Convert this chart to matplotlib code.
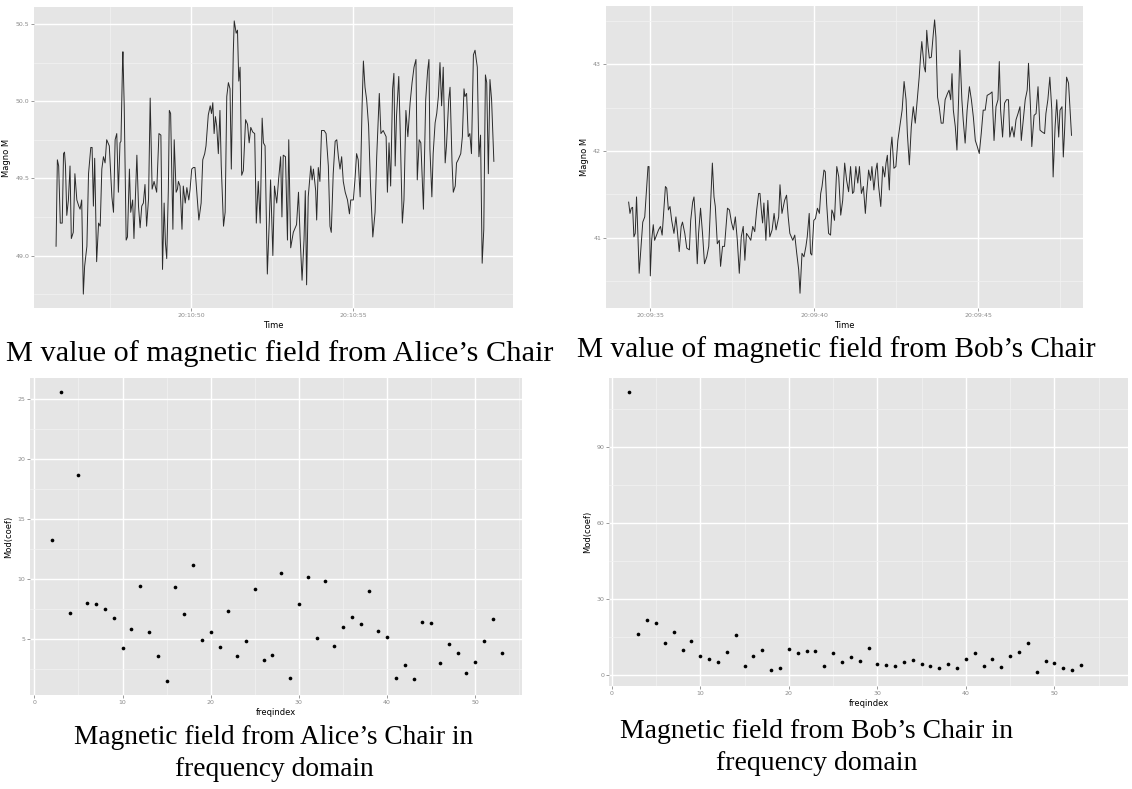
import numpy as np
import matplotlib
matplotlib.use("Agg")
import matplotlib.pyplot as plt
from matplotlib.ticker import FixedLocator, FuncFormatter

W, H = 1132, 789

# ---- Alice's chair, magnitude over time (seconds after 20:10:00) ----
alice_t = [45.84, 45.88, 45.92, 45.97, 46.03, 46.07, 46.10, 46.13, 46.17, 46.22,
           46.27, 46.31, 46.37, 46.42, 46.48, 46.54, 46.58, 46.63, 46.68, 46.72,
           46.79, 46.84, 46.91, 46.95, 46.99, 47.03, 47.09, 47.15, 47.20, 47.25,
           47.30, 47.35, 47.40, 47.48, 47.56, 47.61, 47.66, 47.71, 47.76, 47.81,
           47.84, 47.89, 47.90, 47.94, 48.00, 48.04, 48.10, 48.14, 48.20, 48.24,
           48.33, 48.38, 48.43, 48.48, 48.53, 48.58, 48.63, 48.69, 48.74, 48.80,
           48.86, 48.94, 49.01, 49.07, 49.12, 49.17, 49.21, 49.25, 49.30, 49.33,
           49.37, 49.44, 49.48, 49.54, 49.58, 49.61, 49.66, 49.72, 49.76, 49.82,
           49.87, 49.93, 49.97, 50.02, 50.07, 50.12, 50.17, 50.24, 50.31, 50.36,
           50.42, 50.46, 50.53, 50.59, 50.63, 50.67, 50.71, 50.75, 50.79, 50.84,
           50.89, 50.93, 51.00, 51.05, 51.10, 51.15, 51.20, 51.24, 51.30, 51.33,
           51.39, 51.43, 51.47, 51.51, 51.56, 51.61, 51.68, 51.74, 51.79, 51.84,
           51.90, 51.96, 52.01, 52.07, 52.13, 52.19, 52.23, 52.28, 52.35, 52.41,
           52.45, 52.52, 52.57, 52.64, 52.70, 52.76, 52.80, 52.84, 52.91, 52.97,
           53.01, 53.07, 53.15, 53.25, 53.31, 53.36, 53.42, 53.48, 53.52, 53.56,
           53.61, 53.69, 53.73, 53.77, 53.84, 53.87, 53.92, 53.97, 54.02, 54.10,
           54.16, 54.23, 54.28, 54.32, 54.38, 54.44, 54.49, 54.54, 54.59, 54.64,
           54.69, 54.75, 54.82, 54.88, 54.92, 55.00, 55.05, 55.10, 55.15, 55.21,
           55.27, 55.31, 55.36, 55.41, 55.47, 55.53, 55.60, 55.67, 55.72, 55.80,
           55.85, 55.92, 56.01, 56.05, 56.10, 56.15, 56.21, 56.25, 56.29, 56.33,
           56.40, 56.44, 56.51, 56.56, 56.62, 56.68, 56.75, 56.81, 56.87, 56.93,
           56.97, 57.03, 57.08, 57.16, 57.23, 57.29, 57.33, 57.36, 57.42, 57.46,
           57.52, 57.57, 57.62, 57.67, 57.72, 57.77, 57.83, 57.87, 57.94, 57.98,
           58.04, 58.08, 58.14, 58.18, 58.23, 58.31, 58.36, 58.41, 58.44, 58.49,
           58.54, 58.59, 58.64, 58.70, 58.75, 58.82, 58.87, 58.92, 58.97, 59.02,
           59.07, 59.11, 59.16, 59.21, 59.26, 59.33]
alice_m = [49.06, 49.62, 49.58, 49.21, 49.21, 49.66, 49.67, 49.58, 49.26, 49.36,
           49.58, 49.11, 49.15, 49.53, 49.36, 49.32, 49.30, 49.36, 48.75, 48.93,
           49.06, 49.53, 49.70, 49.70, 49.32, 49.63, 48.96, 49.21, 49.19, 49.56,
           49.64, 49.60, 49.75, 49.71, 49.38, 49.28, 49.75, 49.79, 49.41, 49.73,
           49.74, 50.27, 50.32, 49.97, 49.10, 49.12, 49.56, 49.28, 49.36, 49.11,
           49.65, 49.32, 49.18, 49.32, 49.34, 49.46, 49.19, 49.37, 50.02, 49.43,
           49.48, 49.41, 49.79, 49.78, 48.91, 49.34, 49.08, 48.98, 49.43, 49.94,
           49.92, 49.17, 49.75, 49.41, 49.43, 49.48, 49.45, 49.17, 49.45, 49.34,
           49.44, 49.36, 49.43, 49.56, 49.57, 49.57, 49.43, 49.23, 49.34, 49.62,
           49.66, 49.71, 49.91, 49.97, 49.92, 49.99, 49.79, 49.90, 49.84, 49.66,
           49.94, 49.58, 49.19, 49.28, 50.03, 50.12, 50.08, 49.56, 50.31, 50.52,
           50.44, 50.46, 50.13, 50.22, 49.52, 49.55, 49.88, 49.85, 49.73, 49.83,
           49.80, 49.79, 49.21, 49.48, 49.21, 49.89, 49.73, 49.71, 48.88, 49.22,
           49.49, 49.00, 49.45, 49.34, 49.50, 49.64, 49.25, 49.65, 49.64, 49.10,
           49.75, 49.05, 49.15, 49.20, 49.41, 49.12, 48.84, 49.10, 49.42, 48.81,
           49.38, 49.58, 49.49, 49.56, 49.42, 49.23, 49.57, 49.48, 49.81, 49.81,
           49.79, 49.58, 49.19, 49.15, 49.53, 49.74, 49.75, 49.64, 49.56, 49.64,
           49.48, 49.41, 49.36, 49.27, 49.36, 49.36, 49.49, 49.66, 49.62, 49.38,
           49.97, 50.26, 50.09, 50.01, 49.84, 49.45, 49.12, 49.28, 49.64, 50.05,
           49.79, 49.81, 49.77, 49.41, 49.73, 49.45, 50.08, 50.18, 49.58, 49.90,
           50.16, 49.84, 49.21, 49.36, 49.94, 49.77, 49.99, 50.12, 50.22, 50.27,
           49.49, 49.75, 49.73, 49.30, 50.01, 50.20, 50.27, 49.69, 49.38, 49.66,
           49.86, 49.92, 50.03, 50.25, 49.97, 50.22, 49.60, 49.71, 50.01, 50.09,
           49.61, 49.41, 49.45, 49.60, 49.62, 49.66, 49.77, 50.08, 50.03, 50.05,
           49.77, 49.79, 49.66, 50.30, 50.33, 50.22, 49.64, 49.78, 48.95, 49.17,
           50.17, 50.12, 49.53, 50.14, 50.01, 49.61]

# ---- Bob's chair, magnitude over time (seconds after 20:09:00) ----
bob_t = [34.35, 34.39, 34.43, 34.47, 34.51, 34.55, 34.59, 34.63, 34.67, 34.74,
         34.78, 34.84, 34.90, 34.94, 34.97, 35.01, 35.05, 35.10, 35.14, 35.20,
         35.26, 35.32, 35.37, 35.43, 35.47, 35.51, 35.56, 35.61, 35.66, 35.73,
         35.79, 35.83, 35.89, 35.95, 35.99, 36.06, 36.12, 36.20, 36.24, 36.30,
         36.34, 36.38, 36.44, 36.48, 36.54, 36.60, 36.66, 36.73, 36.79, 36.85,
         36.90, 36.95, 36.99, 37.05, 37.11, 37.15, 37.21, 37.27, 37.36, 37.42,
         37.48, 37.54, 37.60, 37.66, 37.72, 37.78, 37.84, 37.89, 37.94, 38.01,
         38.07, 38.13, 38.19, 38.25, 38.31, 38.35, 38.40, 38.43, 38.47, 38.53,
         38.59, 38.65, 38.72, 38.78, 38.84, 38.92, 38.96, 39.02, 39.10, 39.16,
         39.21, 39.26, 39.35, 39.41, 39.47, 39.53, 39.57, 39.63, 39.69, 39.75,
         39.79, 39.85, 39.89, 39.93, 39.99, 40.04, 40.10, 40.16, 40.20, 40.24,
         40.30, 40.34, 40.38, 40.44, 40.50, 40.54, 40.58, 40.62, 40.69, 40.75,
         40.81, 40.87, 40.93, 40.99, 41.05, 41.11, 41.17, 41.21, 41.27, 41.33,
         41.38, 41.44, 41.50, 41.56, 41.60, 41.66, 41.72, 41.76, 41.82, 41.88,
         41.92, 41.96, 42.03, 42.09, 42.15, 42.19, 42.23, 42.29, 42.33, 42.37,
         42.43, 42.49, 42.55, 42.61, 42.68, 42.74, 42.80, 42.84, 42.90, 42.96,
         43.02, 43.08, 43.14, 43.20, 43.24, 43.28, 43.35, 43.39, 43.43, 43.47,
         43.51, 43.57, 43.63, 43.67, 43.71, 43.76, 43.81, 43.87, 43.93, 43.99,
         44.06, 44.11, 44.16, 44.20, 44.24, 44.30, 44.35, 44.40, 44.44, 44.50,
         44.54, 44.60, 44.66, 44.73, 44.79, 44.85, 44.91, 44.97, 45.03, 45.09,
         45.15, 45.21, 45.27, 45.36, 45.42, 45.48, 45.54, 45.60, 45.64, 45.68,
         45.74, 45.80, 45.86, 45.92, 45.96, 46.03, 46.09, 46.15, 46.21, 46.27,
         46.31, 46.37, 46.43, 46.49, 46.53, 46.59, 46.63, 46.70, 46.76, 46.82,
         46.88, 46.94, 47.02, 47.06, 47.12, 47.18, 47.24, 47.28, 47.34, 47.39,
         47.45, 47.49, 47.55, 47.59, 47.63, 47.69, 47.75, 47.79, 47.84]
bob_m = [41.41, 41.28, 41.34, 41.35, 41.01, 41.05, 41.47, 41.05, 40.59, 40.97,
         41.18, 41.24, 41.59, 41.82, 41.82, 40.56, 40.97, 41.15, 40.97, 41.03,
         41.09, 41.13, 41.03, 41.36, 41.59, 41.57, 41.32, 41.36, 41.20, 41.05,
         41.24, 41.09, 40.84, 41.13, 41.18, 41.05, 40.88, 40.86, 41.20, 41.41,
         41.47, 41.24, 40.70, 41.05, 41.34, 41.05, 40.70, 40.78, 40.90, 41.43,
         41.86, 41.47, 41.36, 40.93, 40.97, 40.67, 40.90, 40.90, 41.34, 41.32,
         41.18, 41.09, 41.24, 40.97, 40.59, 41.01, 41.13, 40.74, 41.05, 41.01,
         40.97, 41.13, 41.07, 41.32, 41.51, 41.51, 41.28, 41.17, 41.40, 40.97,
         41.43, 41.01, 41.09, 41.28, 41.09, 41.24, 41.61, 41.28, 41.43, 41.49,
         41.24, 41.05, 40.97, 41.03, 40.82, 40.63, 40.36, 40.82, 40.78, 40.90,
         41.01, 41.28, 40.82, 40.80, 41.20, 41.22, 41.34, 41.28, 41.51, 41.59,
         41.78, 41.76, 41.40, 41.05, 41.03, 41.32, 41.28, 41.20, 41.82, 41.70,
         41.26, 41.43, 41.86, 41.66, 41.53, 41.82, 41.51, 41.53, 41.82, 41.63,
         41.82, 41.51, 41.59, 41.28, 41.51, 41.78, 41.66, 41.82, 41.55, 41.78,
         41.86, 41.61, 41.36, 41.82, 41.70, 41.86, 41.95, 41.55, 42.01, 42.16,
         41.80, 41.82, 42.12, 42.28, 42.47, 42.80, 42.59, 42.20, 41.84, 42.28,
         42.51, 42.32, 42.59, 42.85, 43.08, 43.26, 42.97, 42.91, 43.39, 43.20,
         43.07, 43.08, 43.35, 43.51, 43.31, 42.62, 42.51, 42.32, 42.32, 42.59,
         42.66, 42.70, 42.59, 42.89, 42.47, 42.28, 42.01, 42.59, 43.16, 42.59,
         42.36, 42.09, 42.47, 42.74, 42.59, 42.39, 42.12, 42.05, 41.97, 42.20,
         42.47, 42.47, 42.64, 42.66, 42.68, 42.12, 42.51, 42.59, 43.03, 42.47,
         42.16, 42.55, 42.59, 42.59, 42.16, 42.28, 42.16, 42.36, 42.43, 42.51,
         42.12, 42.36, 42.59, 42.70, 43.01, 42.51, 42.05, 42.41, 42.43, 42.74,
         42.24, 42.22, 42.20, 42.43, 42.59, 42.85, 42.47, 41.70, 42.28, 42.59,
         42.16, 42.47, 42.51, 41.93, 42.24, 42.85, 42.78, 42.51, 42.18]

# ---- frequency domain, Mod(coef) per freqindex ----
freqindex = list(range(2, 54))
alice_coef = [13.25, 25.58, 7.17, 18.72, 8.00, 7.92, 7.56, 6.81, 4.25, 5.89,
              9.47, 5.64, 3.61, 1.53, 9.39, 7.11, 11.22, 4.92, 5.58, 4.39,
              7.36, 3.61, 4.86, 9.19, 3.31, 3.69, 10.50, 1.75, 7.94, 10.17,
              5.11, 9.83, 4.42, 6.06, 6.89, 6.25, 9.00, 5.67, 5.22, 1.75,
              2.86, 1.69, 6.44, 6.39, 3.06, 4.61, 3.89, 2.17, 3.11, 4.89,
              6.72, 3.89]
bob_coef = [111.7, 16.2, 21.9, 20.6, 12.5, 17.1, 9.7, 13.3, 7.5, 6.2,
            5.3, 9.1, 15.8, 3.7, 7.5, 10.0, 2.1, 2.9, 10.4, 8.8,
            9.3, 9.3, 3.4, 8.7, 5.3, 7.1, 5.7, 10.6, 4.3, 3.8,
            3.4, 5.3, 5.9, 4.3, 3.5, 2.9, 4.3, 2.9, 6.3, 8.8,
            3.7, 6.3, 3.3, 7.5, 9.2, 12.7, 1.1, 5.5, 4.6, 2.9,
            2.1, 3.9]

cap_alice_time = "M value of magnetic field from Alice\u2019s Chair"
cap_bob_time = "M value of magnetic field from Bob\u2019s Chair"
cap_alice_freq = ["Magnetic field from Alice\u2019s Chair in", "frequency domain"]
cap_bob_freq = ["Magnetic field from Bob\u2019s Chair in", "frequency domain"]

GREY_BG = "#E5E5E5"
TICK_GREY = "#8A8A8A"


def px_axes(fig, left, top, right, bottom):
    return fig.add_axes([left / W, 1 - bottom / H, (right - left) / W, (bottom - top) / H])


def gg_style(ax, xmajor, xminor, ymajor, yminor):
    ax.set_facecolor(GREY_BG)
    for s in ax.spines.values():
        s.set_visible(False)
    ax.xaxis.set_major_locator(FixedLocator(xmajor))
    ax.xaxis.set_minor_locator(FixedLocator(xminor))
    ax.yaxis.set_major_locator(FixedLocator(ymajor))
    ax.yaxis.set_minor_locator(FixedLocator(yminor))
    ax.grid(which="major", color="white", lw=1.0)
    ax.grid(which="minor", color="#F2F2F2", lw=0.5)
    ax.set_axisbelow(True)
    ax.tick_params(which="major", length=2, width=0.6, color=TICK_GREY,
                   labelsize=4.5, labelcolor=TICK_GREY, pad=1.5)
    ax.tick_params(which="minor", length=0)


def clock(prefix):
    return FuncFormatter(lambda v, p: "%s:%02d" % (prefix, round(v)))


def caption(fig, x, y, s, size):
    fig.text(x / W, 1 - y / H, s, fontsize=size, family="Liberation Serif",
             ha="center", va="center")


fig = plt.figure(figsize=(W / 100, H / 100), dpi=100)

# top left: Alice, time domain
ax = px_axes(fig, 34, 7, 513, 308)
ax.plot(alice_t, alice_m, color="#2a2a2a", lw=0.7)
ax.set_xlim(45.16, 59.92)
ax.set_ylim(48.66, 50.61)
gg_style(ax, [50, 55], [47.5, 52.5, 57.5], [49.0, 49.5, 50.0, 50.5], [48.75, 49.25, 49.75, 50.25])
ax.xaxis.set_major_formatter(clock("20:10"))
ax.yaxis.set_major_formatter(FuncFormatter(lambda v, p: "%.1f" % v))
ax.set_xlabel("Time", fontsize=6, labelpad=2)
ax.set_ylabel("Magno M", fontsize=6, labelpad=3)

# top right: Bob, time domain
ax = px_axes(fig, 606, 6, 1083, 308)
ax.plot(bob_t, bob_m, color="#2a2a2a", lw=0.7)
ax.set_xlim(33.66, 48.19)
ax.set_ylim(40.19, 43.67)
gg_style(ax, [35, 40, 45], [37.5, 42.5, 47.5], [41, 42, 43], [40.5, 41.5, 42.5, 43.5])
ax.xaxis.set_major_formatter(clock("20:09"))
ax.set_xlabel("Time", fontsize=6, labelpad=2)
ax.set_ylabel("Magno M", fontsize=6, labelpad=3)

# bottom left: Alice, frequency domain
ax = px_axes(fig, 30, 378, 522, 695)
ax.scatter(freqindex, alice_coef, s=7, color="black", lw=0)
ax.set_xlim(-0.49, 55.3)
ax.set_ylim(0.36, 26.78)
gg_style(ax, [0, 10, 20, 30, 40, 50], [5, 15, 25, 35, 45, 55], [5, 10, 15, 20, 25], [2.5, 7.5, 12.5, 17.5, 22.5])
ax.set_xlabel("freqindex", fontsize=6, labelpad=2)
ax.set_ylabel("Mod(coef)", fontsize=6, labelpad=3)

# bottom right: Bob, frequency domain
ax = px_axes(fig, 609, 378, 1128, 686)
ax.scatter(freqindex, bob_coef, s=7, color="black", lw=0)
ax.set_xlim(-0.3, 58.3)
ax.set_ylim(-4.3, 117.1)
gg_style(ax, [0, 10, 20, 30, 40, 50], [5, 15, 25, 35, 45, 55], [0, 30, 60, 90], [15, 45, 75, 105])
ax.set_xlabel("freqindex", fontsize=6, labelpad=2)
ax.set_ylabel("Mod(coef)", fontsize=6, labelpad=3)

# captions under each chart
caption(fig, 280, 354, cap_alice_time, 21.8)
caption(fig, 836, 350, cap_bob_time, 21.2)
caption(fig, 274, 738, cap_alice_freq[0], 19.7)
caption(fig, 274, 770, cap_alice_freq[1], 19.7)
caption(fig, 817, 731, cap_bob_freq[0], 20.0)
caption(fig, 817, 763, cap_bob_freq[1], 20.0)

fig.savefig("out.png", dpi=100, facecolor="white")
